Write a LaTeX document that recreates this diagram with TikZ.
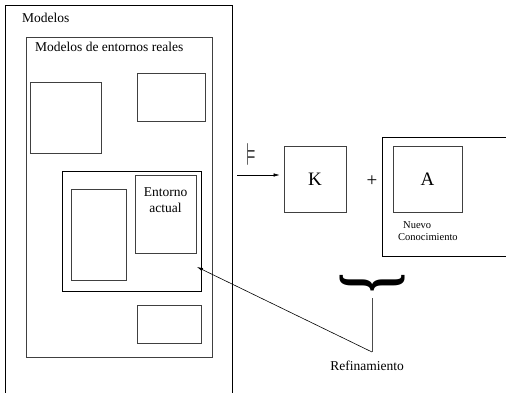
\documentclass[tikz,border=0pt]{standalone}
\usepackage{amssymb}
\usepackage{fontspec}
\setmainfont{Liberation Serif}
\usetikzlibrary{arrows.meta,positioning,calc}

\begin{document}
\begin{tikzpicture}[x=1pt, y=-1pt,
    box/.style={rectangle, draw=black!75, line width=0.8pt, inner sep=0pt},
    frame/.style={rectangle, draw=black, line width=0.8pt, inner sep=0pt},
    txt/.style={inner sep=0pt, font=\fontsize{13.5}{16.5}\selectfont},
    small/.style={inner sep=0pt, font=\fontsize{10.5}{12}\selectfont},
    big/.style={font=\fontsize{19}{22}\selectfont},
    flow/.style={-{Latex[length=6pt,width=3.5pt]}, line width=0.6pt}
]
\useasboundingbox (0,0) rectangle (506,393);
\clip (0,0) rectangle (506,393);
% all models
\node[frame, minimum width=227pt, minimum height=420pt] (modelos) at (118.5,215) {};
\node[txt, anchor=base west] (modelos-lbl) at (22,23) {Modelos};
% models of real environments
\node[box, minimum width=186pt, minimum height=320pt] (reales) at (119,197) {};
\node[txt, anchor=base west] (reales-lbl) at (35,52) {Modelos de entornos reales};
\node[box, minimum width=71pt, minimum height=71pt] (m1) at (65.5,117.5) {};
\node[box, minimum width=68pt, minimum height=48pt] (m2) at (171,97) {};
\node[frame, minimum width=139pt, minimum height=120pt] (grupo) at (131.5,231) {};
\node[box, minimum width=55pt, minimum height=91pt] (m3) at (98.5,234.5) {};
\node[box, minimum width=61pt, minimum height=78pt] (actual) at (165.5,214) {};
\node[txt, align=center, anchor=north] (actual-lbl) at (165.5,187) {Entorno\\actual};
\node[box, minimum width=64pt, minimum height=38pt] (m4) at (169,324) {};
% knowledge
\node[box, minimum width=62pt, minimum height=66pt, big] (K) at (315,179) {K};
\coordinate (src) at (237,175);
\draw[flow, shorten >=4pt] (src) -- (src -| K.west);
\node[inner sep=0pt] (sat) at (251,154) {\resizebox*{9pt}{22pt}{$\vDash$}};
\node[inner sep=0pt, font=\fontsize{19}{19}\selectfont] (plus) at (372,181) {+};
\node[frame, minimum width=138pt, minimum height=119pt] (nuevo) at (451,196.5) {};
\node[box, minimum width=69pt, minimum height=66pt, big] (A) at (427.5,179) {A};
\node[small, anchor=base west] (nuevo-lbl1) at (403,228) {Nuevo};
\node[small, anchor=base west] (nuevo-lbl2) at (398,240) {Conocimiento};
% refinement
\node[inner sep=0pt] (llave) at (372,282.5) {\rotatebox{-90}{\resizebox*{19pt}{65pt}{\bfseries\}}}};
\coordinate (codo) at (372,352);
\coordinate (destino) at (197,267);
\draw[line width=0.6pt, black!70, shorten <=6pt] (llave.south) -- (codo);
\draw[flow] (codo) -- (destino);
\node[txt, anchor=base] (refin-lbl) at (367,370) {Refinamiento};
\end{tikzpicture}
\end{document}
